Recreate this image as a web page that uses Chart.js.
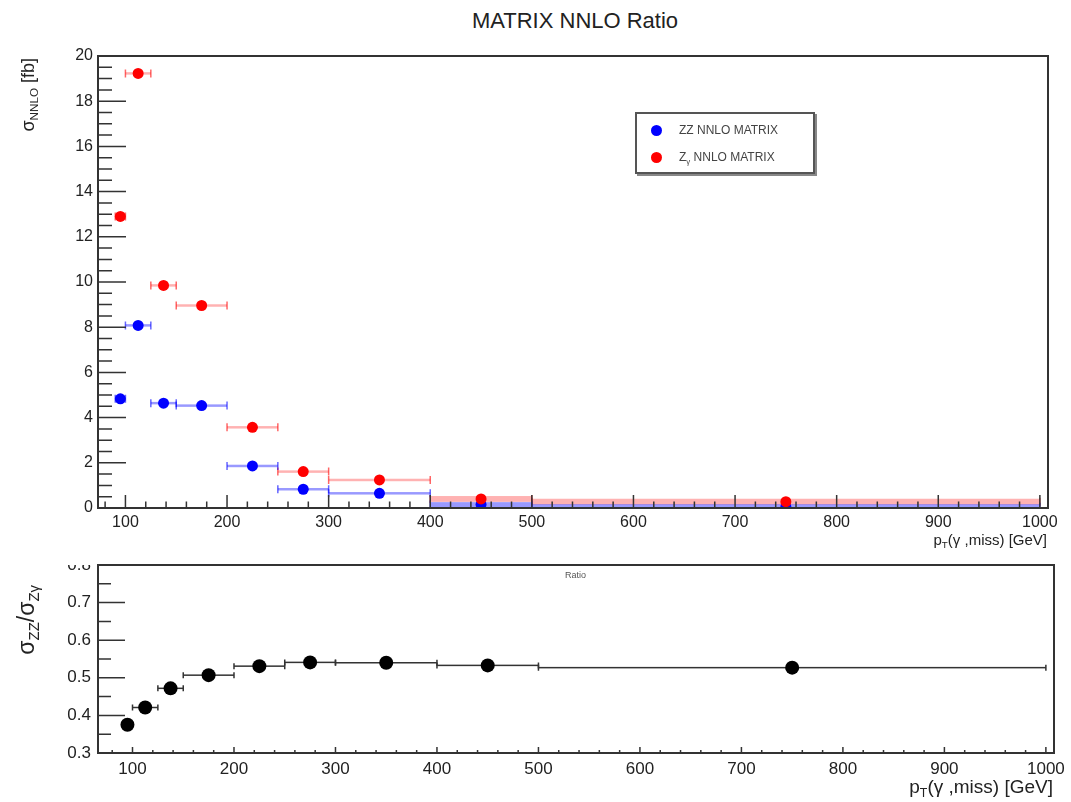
<!DOCTYPE html>
<html>
<head>
<meta charset="utf-8">
<script src="https://cdn.jsdelivr.net/npm/chart.js@4.4.1/dist/chart.umd.min.js"></script>
<style>
  body { margin: 0; background: #fff; width: 1071px; height: 802px; position: relative; overflow: hidden;
         font-family: "Liberation Sans", Arial, sans-serif; color: #222; }
  canvas { position: absolute; left: 0; }
  #topChart { top: 40px; }
  #ratioChart { top: 558px; }
  .txt { position: absolute; white-space: nowrap; line-height: 1; }
  .ytitle { position: absolute; white-space: nowrap; transform-origin: 0 0; transform: rotate(-90deg);
            text-align: right; line-height: 1; }
  sub { font-size: 65%; vertical-align: -0.35em; }
  #legend { position: absolute; left: 635px; top: 112px; width: 176px; height: 58px; border: 2px solid #555;
            box-shadow: 2px 2px 0 #888; background: #fff; font-size: 12px; color: #444; }
  #legend .row { position: absolute; left: 0; height: 14px; line-height: 14px; }
  #legend .dot { position: absolute; left: 14px; top: 2px; width: 11px; height: 11px; border-radius: 50%; }
  #legend .lab { position: absolute; left: 42px; top: 0; white-space: nowrap; }
  #cut { position: absolute; left: 40px; top: 548px; width: 56px; height: 17px; background: #fff; }
</style>
</head>
<body>
<canvas id="topChart" width="1071" height="520"></canvas>
<canvas id="ratioChart" width="1071" height="244"></canvas>
<div id="cut"></div>

<div class="txt" style="left:575px; top:10px; font-size:22px; transform:translateX(-50%);">MATRIX NNLO Ratio</div>
<div class="ytitle" style="left:19px; top:258px; width:200px; font-size:18px;">σ<sub>NNLO</sub> [fb]</div>
<div class="txt" style="right:24px; top:532px; font-size:15px;">p<sub>T</sub>(γ ,miss) [GeV]</div>
<div class="txt" style="left:565px; top:571px; font-size:9px; color:#555;">Ratio</div>
<div class="ytitle" style="left:15px; top:785px; width:200px; font-size:23px;">σ<sub>ZZ</sub>/σ<sub>Zγ</sub></div>
<div class="txt" style="right:18px; top:777px; font-size:19px;">p<sub>T</sub>(γ ,miss) [GeV]</div>

<div id="legend">
  <div class="row" style="top:9px;"><span class="dot" style="background:#0000ff"></span><span class="lab">ZZ NNLO MATRIX</span></div>
  <div class="row" style="top:36px;"><span class="dot" style="background:#ff0000"></span><span class="lab">Z<sub>γ</sub> NNLO MATRIX</span></div>
</div>

<script>
// bins in pT(gamma, miss) [GeV]
const binLow    = [90, 100, 125, 150, 200, 250, 300, 400, 500];
const binHigh   = [100, 125, 150, 200, 250, 300, 400, 500, 1000];
const binCenter = [95, 112.5, 137.5, 175, 225, 275, 350, 450, 750];

// cross sections [fb]
const zzNNLO = [4.83, 8.08, 4.64, 4.53, 1.86, 0.83, 0.65, 0.15, 0.05];
const zzErr  = [0.03, 0.03, 0.03, 0.03, 0.03, 0.03, 0.03, 0.11, 0.12];
const zgNNLO = [12.9, 19.23, 9.85, 8.96, 3.57, 1.61, 1.24, 0.40, 0.28];
const zgErr  = [0.03, 0.03, 0.03, 0.03, 0.03, 0.03, 0.03, 0.13, 0.13];

// ratio sigma_ZZ / sigma_Zgamma
const ratio = [0.375, 0.421, 0.472, 0.507, 0.531, 0.541, 0.540, 0.533, 0.527];

// tick labels
const xTickLabels      = [100, 200, 300, 400, 500, 600, 700, 800, 900, 1000];
const yTickLabels      = [0, 2, 4, 6, 8, 10, 12, 14, 16, 18, 20];
const ratioTickLabels  = [0.3, 0.4, 0.5, 0.6, 0.7, 0.8];

const FONT = "'Liberation Sans', Arial, sans-serif";

function tickList(from, to, step, majors) {
  const out = [];
  for (let v = from; v <= to + 1e-9; v += step) {
    const r = Math.round(v * 1000) / 1000;
    out.push({ value: r, major: majors.includes(r) });
  }
  return out;
}

// ROOT-like frame, inward ticks and bin-width error bars
const rootFrame = {
  id: "rootFrame",
  beforeDatasetsDraw(chart, args, o) {
    const { ctx, chartArea: a, scales: { x, y } } = chart;
    ctx.save();
    ctx.beginPath();
    ctx.rect(a.left, a.top, a.right - a.left, a.bottom - a.top);
    ctx.clip();
    chart.data.datasets.forEach((ds) => {
      if (!ds.binLow) return;
      ds.data.forEach((p, i) => {
        const x1 = x.getPixelForValue(ds.binLow[i]);
        const x2 = x.getPixelForValue(ds.binHigh[i]);
        const yc = y.getPixelForValue(p.y);
        const e = ds.yErr ? ds.yErr[i] : 0;
        let yt = y.getPixelForValue(p.y + e);
        let yb = y.getPixelForValue(p.y - e);
        if (yb - yt < o.minBand) { yt = yc - o.minBand / 2; yb = yc + o.minBand / 2; }
        ctx.fillStyle = ds.bandColor;
        ctx.fillRect(x1, yt, x2 - x1, yb - yt);
        ctx.strokeStyle = ds.capColor;
        ctx.lineWidth = 1.5;
        ctx.beginPath();
        ctx.moveTo(x1, yc - o.cap); ctx.lineTo(x1, yc + o.cap);
        ctx.moveTo(x2, yc - o.cap); ctx.lineTo(x2, yc + o.cap);
        ctx.stroke();
      });
    });
    ctx.restore();
  },
  afterDraw(chart, args, o) {
    const { ctx, chartArea: a, scales: { x, y } } = chart;
    ctx.save();
    ctx.strokeStyle = "#333";
    ctx.lineWidth = 1.5;
    ctx.beginPath();
    x.ticks.forEach((t) => {
      const px = x.getPixelForValue(t.value);
      if (px < a.left || px > a.right) return;
      ctx.moveTo(px, a.bottom);
      ctx.lineTo(px, a.bottom - (t.major ? o.xMaj : o.xMin));
    });
    y.ticks.forEach((t) => {
      const py = y.getPixelForValue(t.value);
      ctx.moveTo(a.left, py);
      ctx.lineTo(a.left + (t.major ? o.yMaj : o.yMin), py);
    });
    ctx.stroke();
    ctx.lineWidth = 2;
    ctx.strokeRect(a.left, a.top, a.right - a.left, a.bottom - a.top);
    ctx.restore();
  },
};

function axisX(min, max, height, size, pad) {
  return {
    type: "linear", min, max,
    grid: { display: false, drawTicks: false }, border: { display: false },
    afterBuildTicks: (s) => { s.ticks = tickList(80, 1000, 20, xTickLabels); },
    afterFit: (s) => { s.height = height; s.paddingLeft = 0; s.paddingRight = 0; },
    ticks: {
      autoSkip: false, maxRotation: 0, padding: pad, color: "#222",
      font: { family: FONT, size },
      callback: (v) => (xTickLabels.includes(v) ? String(v) : ""),
    },
  };
}

function axisY(min, max, step, labels, size, pad) {
  return {
    type: "linear", min, max,
    grid: { display: false, drawTicks: false }, border: { display: false },
    afterBuildTicks: (s) => { s.ticks = tickList(min, max, step, labels); },
    afterFit: (s) => { s.width = 98; s.paddingTop = 0; s.paddingBottom = 0; },
    ticks: {
      autoSkip: false, padding: pad, color: "#222",
      font: { family: FONT, size },
      callback: (v) => (labels.includes(v) ? String(v) : ""),
    },
  };
}

const common = {
  responsive: false,
  animation: false,
  events: [],
  plugins: { legend: { display: false }, tooltip: { enabled: false } },
};

new Chart(document.getElementById("topChart"), {
  type: "scatter",
  data: {
    datasets: [
      {
        label: "Zγ NNLO MATRIX",
        data: binCenter.map((x, i) => ({ x, y: zgNNLO[i] })),
        binLow, binHigh, yErr: zgErr,
        bandColor: "rgba(255,0,0,0.3)", capColor: "rgba(255,0,0,0.6)",
        backgroundColor: "#ff0000", borderColor: "#ff0000",
        pointRadius: 5.5, borderWidth: 0, order: 0,
      },
      {
        label: "ZZ NNLO MATRIX",
        data: binCenter.map((x, i) => ({ x, y: zzNNLO[i] })),
        binLow, binHigh, yErr: zzErr,
        bandColor: "rgba(0,0,255,0.4)", capColor: "rgba(0,0,255,0.6)",
        backgroundColor: "#0000ff", borderColor: "#0000ff",
        pointRadius: 5.5, borderWidth: 0, order: 1,
      },
    ],
  },
  options: {
    ...common,
    layout: { padding: { left: 0, right: 23, top: 16, bottom: 0 } },
    plugins: {
      ...common.plugins,
      rootFrame: { xMaj: 13, xMin: 6.5, yMaj: 28, yMin: 14, cap: 4, minBand: 2.5 },
    },
    scales: {
      x: axisX(73, 1008, 52, 16, 5),
      y: axisY(0, 20, 0.5, yTickLabels, 16, 5),
    },
  },
  plugins: [rootFrame],
});

new Chart(document.getElementById("ratioChart"), {
  type: "scatter",
  data: {
    datasets: [
      {
        label: "Ratio",
        data: binCenter.map((x, i) => ({ x, y: ratio[i] })),
        binLow, binHigh,
        bandColor: "#333", capColor: "#333",
        backgroundColor: "#000", borderColor: "#000",
        pointRadius: 7, borderWidth: 0,
      },
    ],
  },
  options: {
    ...common,
    layout: { padding: { left: 0, right: 17, top: 1, bottom: 0 } },
    plugins: {
      ...common.plugins,
      rootFrame: { xMaj: 6, xMin: 3, yMaj: 27, yMin: 13, cap: 3, minBand: 1.5 },
    },
    scales: {
      x: axisX(66, 1008, 49, 17, 6),
      y: axisY(0.3, 0.8, 0.05, ratioTickLabels, 17, 7),
    },
  },
  plugins: [rootFrame],
});
</script>
</body>
</html>
